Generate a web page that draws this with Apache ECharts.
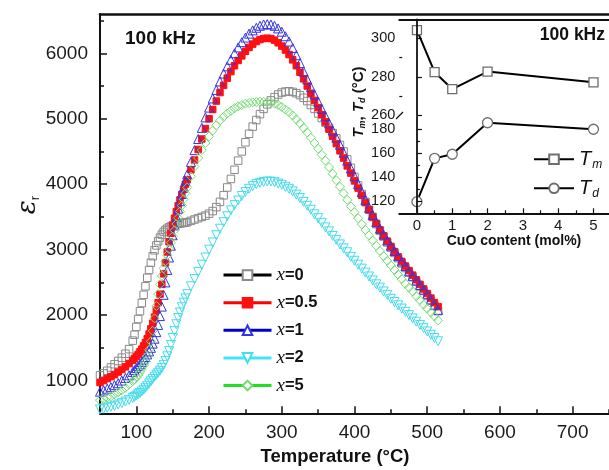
<!DOCTYPE html>
<html><head><meta charset="utf-8">
<script src="https://cdn.jsdelivr.net/npm/echarts@6/dist/echarts.min.js"></script>
<style>html,body{margin:0;padding:0;background:#fff}#c{width:609px;height:470px}</style>
</head><body><div id="c"></div>
<script>
// ---- data ----
const temperature = [50,55,60,65,70,75,80,85,90,95,
 100,105,110,115,120,125,130,135,140,145,150,155,160,165,170,175,180,185,190,195,
 200,205,210,215,220,225,230,235,240,245,250,255,260,265,270,275,280,285,290,295,
 300,305,310,315,320,325,330,335,340,345,350,355,360,365,370,375,380,385,390,395,
 400,405,410,415,420,425,430,435,440,445,450,455,460,465,470,475,480,485,490,495,
 500,505,510,515];
const epsX0 = [1080,1110,1150,1200,1250,1300,1350,1410,1480,1610,
 1820,2060,2310,2570,2800,2990,3130,3230,3300,3340,3370,3390,3400,3410,3420,3440,3460,3480,3500,3520,
 3550,3590,3650,3730,3830,3950,4080,4220,4360,4500,4640,4770,4880,4980,5070,5150,5220,5280,5330,5370,
 5400,5415,5420,5410,5390,5360,5320,5270,5210,5150,5080,5010,4940,4860,4780,4700,4600,4500,4380,4250,
 4110,3980,3850,3730,3610,3500,3390,3290,3200,3110,3030,2950,2870,2790,2720,2650,2580,2510,2440,2370,
 2300,2220,2140,2060];
const epsX05 = [970,1000,1030,1060,1090,1130,1170,1210,1260,1310,
 1370,1440,1530,1640,1790,1970,2190,2470,2800,3120,3370,3580,3760,3920,4070,4220,4370,4530,4690,4850,
 5000,5140,5270,5400,5510,5620,5720,5810,5890,5960,6030,6090,6140,6180,6210,6225,6230,6225,6200,6160,
 6110,6050,5980,5900,5810,5710,5610,5500,5390,5280,5170,5060,4950,4840,4730,4620,4510,4400,4280,4170,
 4050,3940,3830,3720,3610,3500,3400,3300,3210,3130,3050,2970,2890,2820,2750,2680,2610,2540,2470,2400,
 2330,2260,2190,2130];
const epsX1 = [830,850,875,900,930,960,1000,1040,1080,1130,
 1190,1250,1320,1400,1500,1640,1850,2130,2500,2880,3220,3500,3740,3950,4150,4340,4520,4690,4860,5020,
 5170,5310,5440,5570,5690,5800,5900,6000,6090,6170,6240,6300,6350,6390,6420,6440,6445,6440,6420,6380,
 6330,6260,6180,6080,5970,5850,5720,5600,5480,5370,5260,5150,5040,4930,4820,4710,4600,4480,4360,4240,
 4120,4000,3880,3760,3640,3530,3420,3320,3230,3140,3060,2980,2900,2820,2750,2670,2600,2530,2460,2390,
 2320,2240,2160,2080];
const epsX2 = [560,570,585,600,615,635,655,680,705,735,
 770,810,860,920,990,1060,1120,1190,1300,1450,1650,1860,2040,2190,2320,2440,2550,2660,2770,2880,
 3000,3110,3220,3320,3420,3510,3600,3680,3750,3820,3880,3930,3970,4000,4020,4035,4040,4040,4030,4010,
 3990,3960,3930,3890,3840,3790,3730,3670,3610,3540,3480,3410,3340,3280,3210,3150,3080,3020,2960,2890,
 2830,2770,2710,2650,2590,2530,2470,2420,2360,2310,2250,2200,2150,2100,2050,2000,1950,1900,1850,1800,
 1750,1700,1650,1600];
const epsX5 = [700,720,740,760,790,820,850,890,940,990,
 1050,1130,1230,1370,1600,1950,2320,2600,2820,3010,3200,3390,3580,3770,3950,4120,4270,4400,4520,4630,
 4730,4820,4900,4970,5030,5080,5120,5160,5190,5210,5230,5240,5250,5255,5260,5260,5255,5245,5230,5210,
 5180,5140,5100,5050,4990,4930,4860,4790,4710,4630,4540,4450,4360,4260,4160,4060,3960,3860,3760,3660,
 3570,3480,3390,3300,3220,3140,3060,2980,2900,2830,2760,2690,2620,2550,2480,2420,2360,2290,2230,2160,
 2100,2040,1980,1920];
// extra readings on the steep rising parts
const temperatureSteep = [97.5,102.5,107.5,112.5,117.5,122.5,127.5,132.5,137.5,142.5,147.5,152.5,157.5,162.5,167.5];
const steepX0  = [1700,1940,2185,2440,2690,2900,3065,3185,3270,3320,3355,3380,3395,3405,3415];
const steepX05 = [1340,1400,1480,1580,1710,1875,2075,2320,2630,2965,3250,3480,3670,3840,4000];
const steepX1  = [1160,1220,1285,1360,1445,1565,1740,1985,2310,2690,3060,3370,3625,3850,4050];
const steepX2  = [750,790,835,890,955,1025,1090,1150,1240,1370,1545,1755,1955,2120,2255];
const steepX5  = [1020,1085,1175,1295,1470,1760,2140,2470,2715,2915,3105,3295,3485,3675,3860];

const seriesNames = ['x=0','x=0.5','x=1','x=2','x=5'];
const xTickLabels = [100,200,300,400,500,600,700];
const xMinorTicks = [150,250,350,450,550,650,750];
const yTickLabels = [1000,2000,3000,4000,5000,6000];
const yMinorTicks = [1500,2500,3500,4500,5500,6500];
const cuoContent = [0,0.5,1,2,5];
const tmValues = [304.4,282.4,273.6,282.7,277.1];
const tdValues = [119.6,155.5,158.9,185.0,179.6];
const insetXTicks = [0,1,2,3,4,5];
const insetXMinor = [0.5,1.5,2.5,3.5,4.5];
const insetUpperTicks = [260,280,300];
const insetUpperMinor = [270,290];
const insetLowerTicks = [120,140,160,180];
const insetLowerMinor = [130,150,170];

// ---- build ----
const FF = '"Liberation Sans", Arial, sans-serif';
const pairs = (xs, ys) => xs.map((x, i) => [x, ys[i]]);
const mainSeriesData = [epsX0, epsX05, epsX1, epsX2, epsX5];
const steepData = [steepX0, steepX05, steepX1, steepX2, steepX5];
const styles = [
  {line:'#000000', symbol:'rect', size:7.5, fill:'transparent', border:'#8a8a8a', rot:0},
  {line:'#ff0000', symbol:'rect', size:6.5, fill:'#ff1010', border:'#ff1010', rot:0},
  {line:'#0000cc', symbol:'triangle', size:9, fill:'transparent', border:'#3535e0', rot:0},
  {line:'#40e6f6', symbol:'triangle', size:9, fill:'transparent', border:'#45dcec', rot:180},
  {line:'#22dd22', symbol:'diamond', size:9, fill:'transparent', border:'#72dc72', rot:0}
];
const plain = (v) => String(v);
const series = seriesNames.map((n, k) => ({
  name: n, type: 'line', xAxisIndex: 0, yAxisIndex: 0, z: 2,
  data: pairs(temperature, mainSeriesData[k]).concat(pairs(temperatureSteep, steepData[k])),
  symbol: styles[k].symbol, symbolSize: styles[k].size, symbolRotate: styles[k].rot,
  showSymbol: true, showAllSymbol: true,
  lineStyle: {color: styles[k].line, width: 0},
  itemStyle: {color: styles[k].fill, borderColor: styles[k].border, borderWidth: 1},
  emphasis: {disabled: true}, animation: false
}));
series.push({
  name: 'Tm', type: 'line', xAxisIndex: 3, yAxisIndex: 2, z: 8, clip: false,
  data: pairs(cuoContent, tmValues), symbol: 'rect', symbolSize: 9,
  lineStyle: {color: '#000', width: 2},
  itemStyle: {color: '#fff', borderColor: '#6e6e6e', borderWidth: 1.3},
  emphasis: {disabled: true}, animation: false
});
series.push({
  name: 'Td', type: 'line', xAxisIndex: 4, yAxisIndex: 4, z: 8, clip: false,
  data: pairs(cuoContent, tdValues), symbol: 'circle', symbolSize: 10,
  lineStyle: {color: '#000', width: 2},
  itemStyle: {color: '#fff', borderColor: '#6e6e6e', borderWidth: 1.3},
  emphasis: {disabled: true}, animation: false
});

const lineAx = (w) => ({show: true, lineStyle: {color: '#111', width: w}});
const noSplit = {show: false};
const option = {
  backgroundColor: '#fff',
  animation: false,
  grid: [
    {left: 100, top: 14, width: 509, height: 399.3},
    {left: 399.3, top: 19.3, width: 209.7, height: 95.8},
    {left: 399.3, top: 116.7, width: 209.7, height: 96.6}
  ],
  xAxis: [
    {gridIndex: 0, type: 'value', min: 50, max: 750, position: 'bottom', axisLine: lineAx(2),
     axisTick: {inside: true, length: 7, customValues: xTickLabels, lineStyle: {color: '#111', width: 1.5}},
     axisLabel: {customValues: xTickLabels, formatter: plain, fontSize: 19, color: '#1a1a1a', margin: 10, fontFamily: FF},
     splitLine: noSplit},
    {gridIndex: 0, type: 'value', min: 50, max: 750, position: 'bottom', axisLine: {show: false},
     axisTick: {inside: true, length: 4, customValues: xMinorTicks, lineStyle: {color: '#111', width: 1.5}},
     axisLabel: {show: false}, splitLine: noSplit},
    {gridIndex: 0, type: 'value', min: 50, max: 750, position: 'top', axisLine: lineAx(2.6),
     axisTick: {show: false}, axisLabel: {show: false}, splitLine: noSplit},
    {gridIndex: 1, type: 'value', min: -0.5, max: 5.44, position: 'top', axisLine: lineAx(2), z: 9,
     axisTick: {show: false}, axisLabel: {show: false}, splitLine: noSplit},
    {gridIndex: 2, type: 'value', min: -0.5, max: 5.44, position: 'bottom', axisLine: lineAx(2), z: 9,
     axisTick: {inside: true, length: 5, customValues: insetXTicks, lineStyle: {color: '#111', width: 1.2}},
     axisLabel: {customValues: insetXTicks, formatter: plain, fontSize: 15, color: '#1a1a1a', margin: 5, fontFamily: FF},
     splitLine: noSplit},
    {gridIndex: 2, type: 'value', min: -0.5, max: 5.44, position: 'bottom', axisLine: {show: false}, z: 9,
     axisTick: {inside: true, length: 3, customValues: insetXMinor, lineStyle: {color: '#111', width: 1.2}},
     axisLabel: {show: false}, splitLine: noSplit}
  ],
  yAxis: [
    {gridIndex: 0, type: 'value', min: 500, max: 6600, position: 'left', axisLine: lineAx(2),
     axisTick: {inside: true, length: 7, customValues: yTickLabels, lineStyle: {color: '#111', width: 1.5}},
     axisLabel: {customValues: yTickLabels, formatter: plain, fontSize: 19, color: '#1a1a1a', margin: 12, fontFamily: FF},
     splitLine: noSplit},
    {gridIndex: 0, type: 'value', min: 500, max: 6600, position: 'left', axisLine: {show: false},
     axisTick: {inside: true, length: 4, customValues: yMinorTicks, lineStyle: {color: '#111', width: 1.5}},
     axisLabel: {show: false}, splitLine: noSplit},
    {gridIndex: 1, type: 'value', min: 260, max: 310, position: 'left', axisLine: lineAx(1.8), z: 9,
     axisTick: {inside: true, length: 5, customValues: insetUpperTicks, lineStyle: {color: '#111', width: 1.2}},
     axisLabel: {customValues: insetUpperTicks, formatter: plain, fontSize: 14.5, color: '#1a1a1a', margin: 4, fontFamily: FF},
     splitLine: noSplit},
    {gridIndex: 1, type: 'value', min: 260, max: 310, position: 'left', axisLine: {show: false}, z: 9,
     axisTick: {inside: true, length: 3, customValues: insetUpperMinor, lineStyle: {color: '#111', width: 1.2}},
     axisLabel: {show: false}, splitLine: noSplit},
    {gridIndex: 2, type: 'value', min: 110, max: 190, position: 'left', axisLine: lineAx(1.8), z: 9,
     axisTick: {inside: true, length: 5, customValues: insetLowerTicks, lineStyle: {color: '#111', width: 1.2}},
     axisLabel: {customValues: insetLowerTicks, formatter: plain, fontSize: 14.5, color: '#1a1a1a', margin: 4, fontFamily: FF},
     splitLine: noSplit},
    {gridIndex: 2, type: 'value', min: 110, max: 190, position: 'left', axisLine: {show: false}, z: 9,
     axisTick: {inside: true, length: 3, customValues: insetLowerMinor, lineStyle: {color: '#111', width: 1.2}},
     axisLabel: {show: false}, splitLine: noSplit}
  ],
  legend: [
    {data: seriesNames.map((n, k) => ({name: n, itemStyle: styles[k].fill === 'transparent' ? {color: '#fff'} : {}})),
     orient: 'vertical', left: 217, top: 260.6, itemWidth: 48, itemHeight: 12, itemGap: 8.6,
     selectedMode: false, lineStyle: {width: 3, opacity: 1},
     formatter: (n) => '{i|x}{n|' + n.slice(1) + '}',
     textStyle: {lineHeight: 18, rich: {
       i: {fontFamily: '"Liberation Serif", serif', fontStyle: 'italic', fontSize: 19, color: '#111', lineHeight: 18},
       n: {fontFamily: FF, fontWeight: 'bold', fontSize: 16.5, color: '#111', lineHeight: 18}}}},
    {data: [{name: 'Tm'}, {name: 'Td'}], orient: 'vertical', left: 528, top: 142.3, itemWidth: 40, itemHeight: 12,
     itemGap: 5, selectedMode: false, z: 9, lineStyle: {width: 2, opacity: 1},
     formatter: (n) => '{t|T}{s|' + n.slice(1) + '}',
     textStyle: {lineHeight: 24, rich: {
       t: {fontFamily: FF, fontStyle: 'italic', fontSize: 20, color: '#111', lineHeight: 24},
       s: {fontFamily: FF, fontStyle: 'italic', fontSize: 12, color: '#111', lineHeight: 14, padding: [10, 0, 0, 1]}}}}
  ],
  graphic: [
    {type: 'rect', z: 4, shape: {x: 399.3, y: 19.3, width: 212, height: 194}, style: {fill: '#fff'}, silent: true},
    {type: 'line', z: 10, shape: {x1: 396, y1: 119, x2: 403, y2: 112}, style: {stroke: '#111', lineWidth: 1.2}},
    {type: 'text', z: 10, style: {x: 125, y: 38.5, text: '100 kHz', font: 'bold 19px ' + FF, fill: '#111',
      align: 'left', verticalAlign: 'middle', textAlign: 'left', textVerticalAlign: 'middle'}},
    {type: 'text', z: 10, style: {x: 605, y: 35, text: '100 kHz', font: 'bold 17.5px ' + FF, fill: '#111',
      align: 'right', verticalAlign: 'middle', textAlign: 'right', textVerticalAlign: 'middle'}},
    {type: 'text', z: 10, style: {x: 335, y: 457, text: 'Temperature (°C)', font: 'bold 18.5px ' + FF, fill: '#111',
      align: 'center', verticalAlign: 'middle', textAlign: 'center', textVerticalAlign: 'middle'}},
    {type: 'text', z: 10, style: {x: 514, y: 241, text: 'CuO content (mol%)', font: 'bold 14px ' + FF, fill: '#111',
      align: 'center', verticalAlign: 'middle', textAlign: 'center', textVerticalAlign: 'middle'}},
    {type: 'text', z: 10, x: 28, y: 205, rotation: Math.PI / 2,
     style: {text: '{e|ε}{r|r}', align: 'center', verticalAlign: 'middle', textAlign: 'center', textVerticalAlign: 'middle',
       rich: {e: {fontFamily: '"DejaVu Serif", serif', fontStyle: 'italic', fontSize: 26, fill: '#111', lineHeight: 26},
              r: {fontFamily: FF, fontSize: 13, fill: '#111', lineHeight: 26, padding: [14, 0, 0, 0]}}}},
    {type: 'text', z: 10, x: 359, y: 102, rotation: Math.PI / 2,
     style: {text: '{t|T}{s|m}{n|, }{t|T}{s|d}{n| (°C)}', align: 'center', verticalAlign: 'middle',
       textAlign: 'center', textVerticalAlign: 'middle',
       rich: {t: {fontFamily: FF, fontStyle: 'italic', fontWeight: 'bold', fontSize: 15, fill: '#111', lineHeight: 18},
              s: {fontFamily: FF, fontStyle: 'italic', fontWeight: 'bold', fontSize: 9, fill: '#111', lineHeight: 18, padding: [8, 0, 0, 0]},
              n: {fontFamily: FF, fontWeight: 'bold', fontSize: 15, fill: '#111', lineHeight: 18}}}}
  ],
  series: series
};
const chart = echarts.init(document.getElementById('c'), null, {renderer: 'canvas'});
chart.setOption(option);
</script></body></html>
